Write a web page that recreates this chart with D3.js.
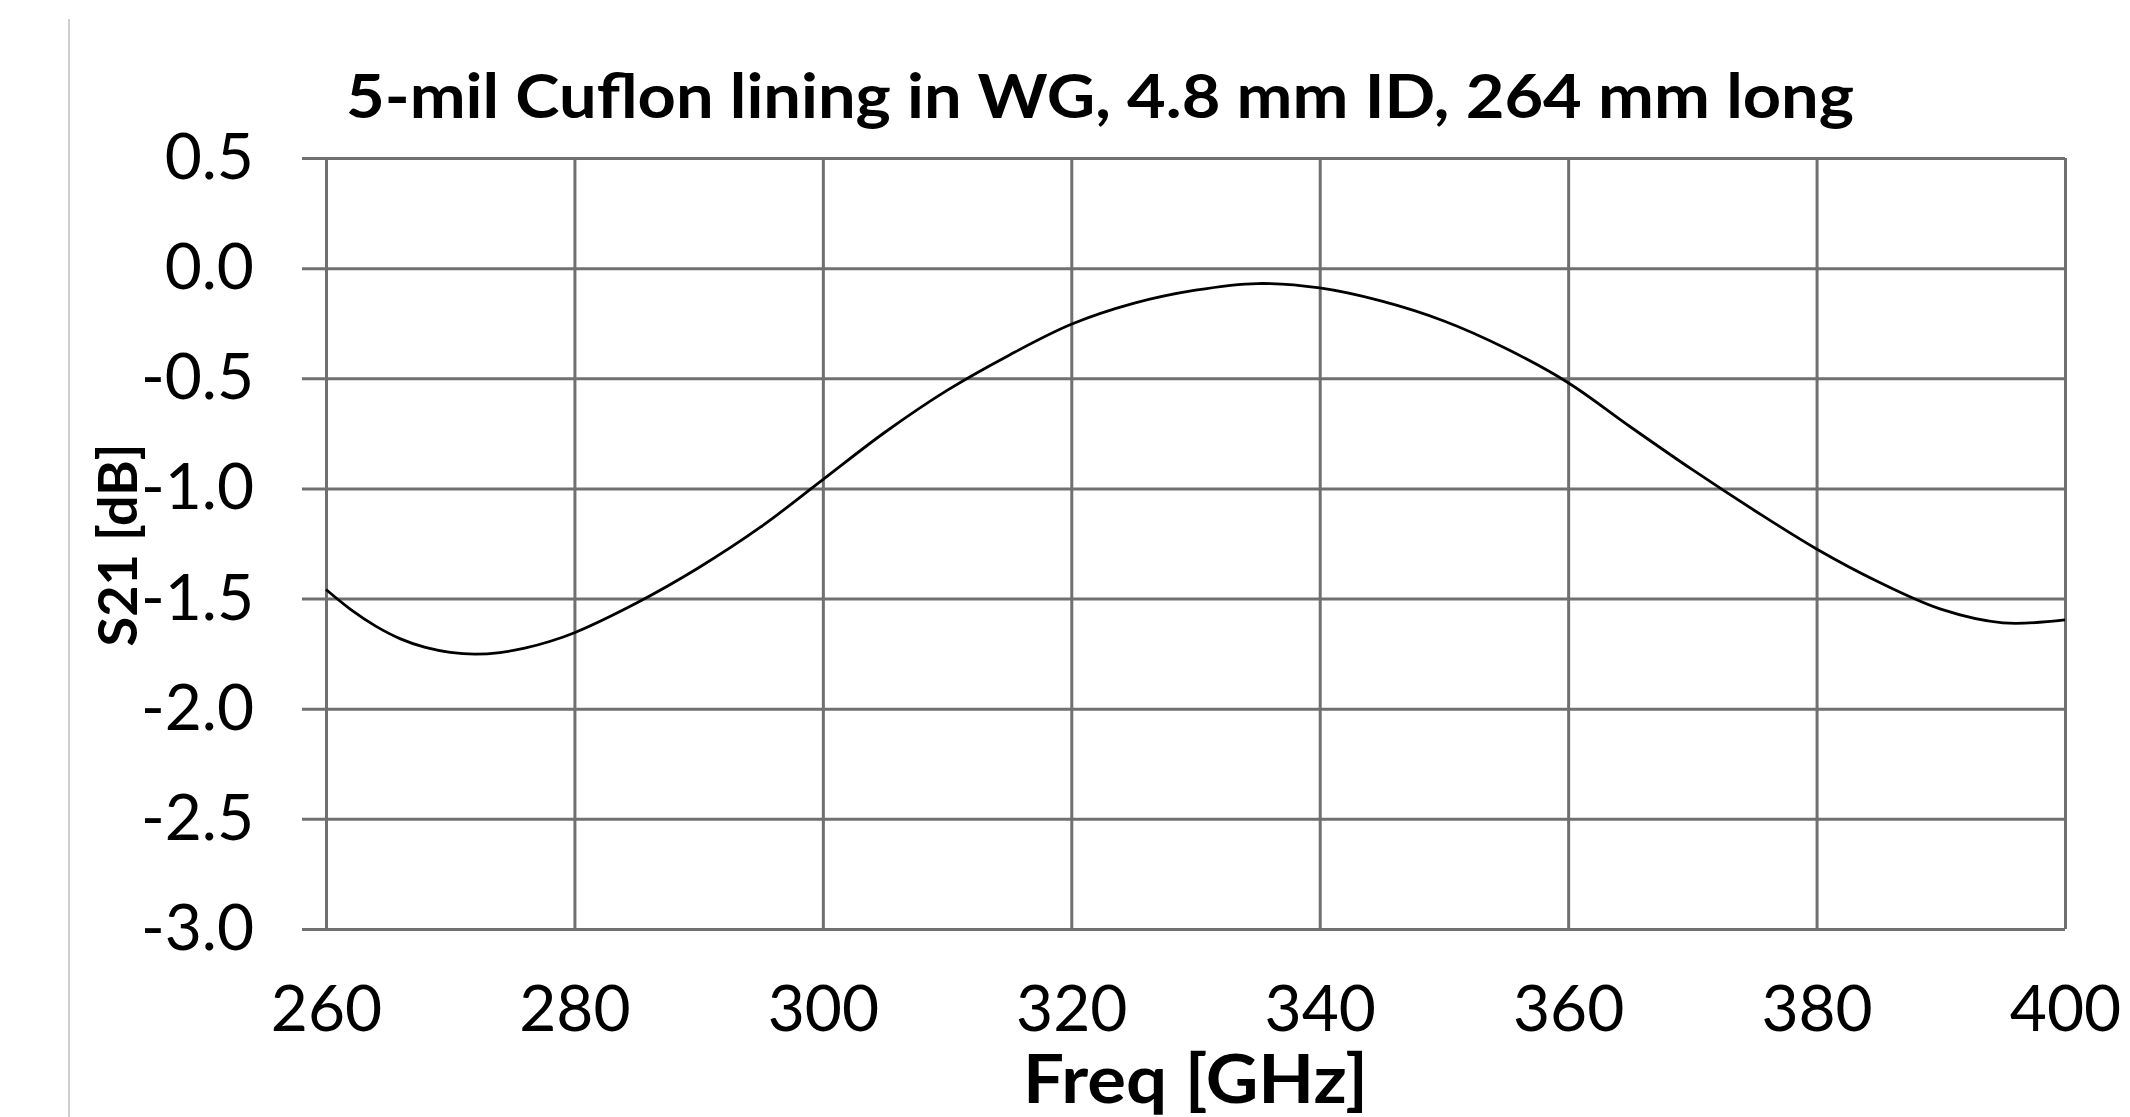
<!DOCTYPE html>
<html>
<head>
<meta charset="utf-8">
<script src="https://cdn.jsdelivr.net/npm/d3@7"></script>
<style>
  html, body { margin: 0; padding: 0; background: #fff; }
  svg { display: block; }
</style>
</head>
<body>
<svg id="chart" width="2130" height="1117"></svg>
<script>
// ---- data ----
const titleText = "5-mil Cuflon lining in WG, 4.8 mm ID, 264 mm long";
const xTitle = "Freq [GHz]";
const yTitle = "S21 [dB]";
const xTicks = [260, 280, 300, 320, 340, 360, 380, 400];
const xTickLabels = ["260", "280", "300", "320", "340", "360", "380", "400"];
const yTicks = [0.5, 0.0, -0.5, -1.0, -1.5, -2.0, -2.5, -3.0];
const yTickLabels = ["0.5", "0.0", "-0.5", "-1.0", "-1.5", "-2.0", "-2.5", "-3.0"];
const freq = [260, 262, 264, 266, 268, 270, 272, 274, 276, 278, 280,
              285, 290, 295, 300, 305, 310, 315, 320, 325, 330, 335, 340, 345, 350,
              355, 360, 365, 370, 375, 380, 385, 390, 395, 400];
const s21 = [-1.459, -1.550, -1.625, -1.683, -1.722, -1.744, -1.752, -1.745, -1.725, -1.695, -1.655,
             -1.520, -1.360, -1.175, -0.960, -0.745, -0.555, -0.395, -0.255, -0.160, -0.100, -0.070,
             -0.090, -0.150, -0.240, -0.365, -0.520, -0.720, -0.915, -1.100, -1.275, -1.425, -1.548,
             -1.610, -1.597];

// ---- layout ----
const svg = d3.select("#chart");
const L = 326, R = 2065, T = 158, B = 929;
const gridColor = "#707070";
const font = "Lato, 'Open Sans', sans-serif";

const x = d3.scaleLinear().domain([260, 400]).range([L, R]);
const y = d3.scaleLinear().domain([-3.0, 0.5]).range([B, T]);

svg.append("rect").attr("width", 2130).attr("height", 1117).attr("fill", "#fff");

// faint vertical separator at far left
svg.append("line")
  .attr("x1", 69).attr("x2", 69).attr("y1", 19).attr("y2", 1117)
  .attr("stroke", "#cfcfcf").attr("stroke-width", 2);

// y axis with horizontal gridlines (extending 24px left as tick marks)
const tickOut = 24;
const yAxis = d3.axisLeft(y)
  .tickValues(yTicks)
  .tickFormat((d, i) => yTickLabels[i])
  .tickSize(-(R - L + tickOut))
  .tickPadding(48);
const gy = svg.append("g").attr("transform", `translate(${L - tickOut},0)`).call(yAxis);
gy.select(".domain").remove();
gy.selectAll(".tick line").attr("stroke", gridColor).attr("stroke-width", 3);
gy.selectAll(".tick text")
  .attr("fill", "#000").attr("font-family", font).attr("font-size", 64);

// x axis with vertical gridlines
const xAxis = d3.axisBottom(x)
  .tickValues(xTicks)
  .tickFormat((d, i) => xTickLabels[i])
  .tickSize(-(B - T))
  .tickPadding(57);
const gx = svg.append("g").attr("transform", `translate(0,${B})`).call(xAxis);
gx.select(".domain").remove();
gx.selectAll(".tick line").attr("stroke", gridColor).attr("stroke-width", 3);
gx.selectAll(".tick text")
  .attr("fill", "#000").attr("font-family", font).attr("font-size", 64);

// data line
const data = freq.map((f, i) => ({ f, v: s21[i] }));
const line = d3.line().x(d => x(d.f)).y(d => y(d.v)).curve(d3.curveCatmullRom.alpha(0.5));
svg.append("path")
  .datum(data)
  .attr("d", line)
  .attr("fill", "none")
  .attr("stroke", "#000")
  .attr("stroke-width", 2.8)
  .attr("stroke-linejoin", "round");

// titles
svg.append("text")
  .attr("x", 1100).attr("y", 118)
  .attr("text-anchor", "middle")
  .attr("font-family", font).attr("font-weight", "bold").attr("font-size", 62)
  .attr("textLength", 1508).attr("lengthAdjust", "spacingAndGlyphs")
  .attr("fill", "#000")
  .text(titleText);

svg.append("text")
  .attr("x", (L + R) / 2).attr("y", 1103)
  .attr("text-anchor", "middle")
  .attr("font-family", font).attr("font-weight", "bold").attr("font-size", 66)
  .attr("textLength", 345).attr("lengthAdjust", "spacingAndGlyphs")
  .attr("fill", "#000")
  .text(xTitle);

svg.append("text")
  .attr("transform", `translate(137,545) rotate(-90)`)
  .attr("text-anchor", "middle")
  .attr("font-family", font).attr("font-weight", "bold").attr("font-size", 54)
  .attr("fill", "#000")
  .text(yTitle);
</script>
</body>
</html>
